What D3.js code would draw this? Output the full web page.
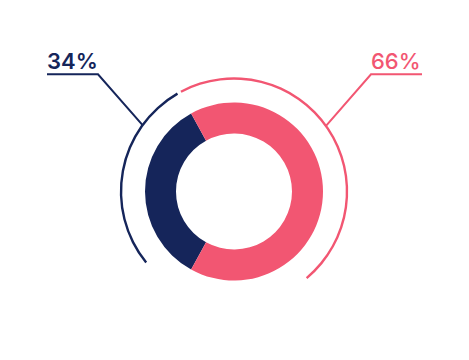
<!DOCTYPE html>
<html>
<head>
<meta charset="utf-8">
<script src="https://cdn.jsdelivr.net/npm/d3@7"></script>
<style>
  html, body { margin: 0; padding: 0; background: #fff; }
  svg { display: block; }
</style>
</head>
<body>
<div id="root"></div>
<script>
const width = 469, height = 360;

// data
const labels = ["34%", "66%"];
const values = [34, 66];
const colors = ["#15255a", "#f25672"];

const cx = 234, cy = 191.5,
    innerR = 58, outerR = 89, ringR = 113;

const svg = d3.select("#root").append("svg")
    .attr("width", width)
    .attr("height", height);

const g = svg.append("g")
    .attr("transform", "translate(" + cx + "," + cy + ")");

// dark slice centred on the left side
const darkSpan = values[0] / 100 * 2 * Math.PI;
const startAngle = 1.5 * Math.PI - darkSpan / 2;

const pie = d3.pie()
    .sort(null)
    .startAngle(startAngle)
    .endAngle(startAngle + 2 * Math.PI);

const arc = d3.arc()
    .innerRadius(innerR)
    .outerRadius(outerR);

g.selectAll(".slice")
    .data(pie(values))
    .enter()
    .append("path")
    .attr("class", "slice")
    .attr("d", arc)
    .style("fill", (d, i) => colors[i]);

// thin outer arcs
const deg = Math.PI / 180;
const rings = [
    {start: -129 * deg, end: -30 * deg},
    {start: -28 * deg, end: 140 * deg}
];

const ringArc = d3.arc()
    .innerRadius(ringR - 1.2)
    .outerRadius(ringR + 1.2);

g.selectAll(".ring")
    .data(rings)
    .enter()
    .append("path")
    .attr("class", "ring")
    .attr("d", (d) => ringArc({startAngle: d.start, endAngle: d.end}))
    .style("fill", (d, i) => colors[i]);

// leader lines + labels
const leaders = [
    {angle: -54 * deg, elbowX: 98, endX: 47, y: 74.3},
    {angle: 54.5 * deg, elbowX: 371, endX: 422, y: 74.3}
];

leaders.forEach((l, i) => {
    const px = cx + ringR * Math.sin(l.angle),
        py = cy - ringR * Math.cos(l.angle);
    svg.append("path")
        .attr("d", d3.line()([[px, py], [l.elbowX, l.y], [l.endX, l.y]]))
        .style("fill", "none")
        .style("stroke", colors[i])
        .style("stroke-width", 2);

    svg.append("text")
        .text(labels[i])
        .attr("x", Math.min(l.elbowX, l.endX))
        .attr("y", 68.5)
        .style("font-family", "Inter, 'Noto Sans', sans-serif")
        .style("font-weight", i === 0 ? 600 : 500)
        .style("font-size", "22px")
        .style("fill", colors[i]);
});
</script>
</body>
</html>
